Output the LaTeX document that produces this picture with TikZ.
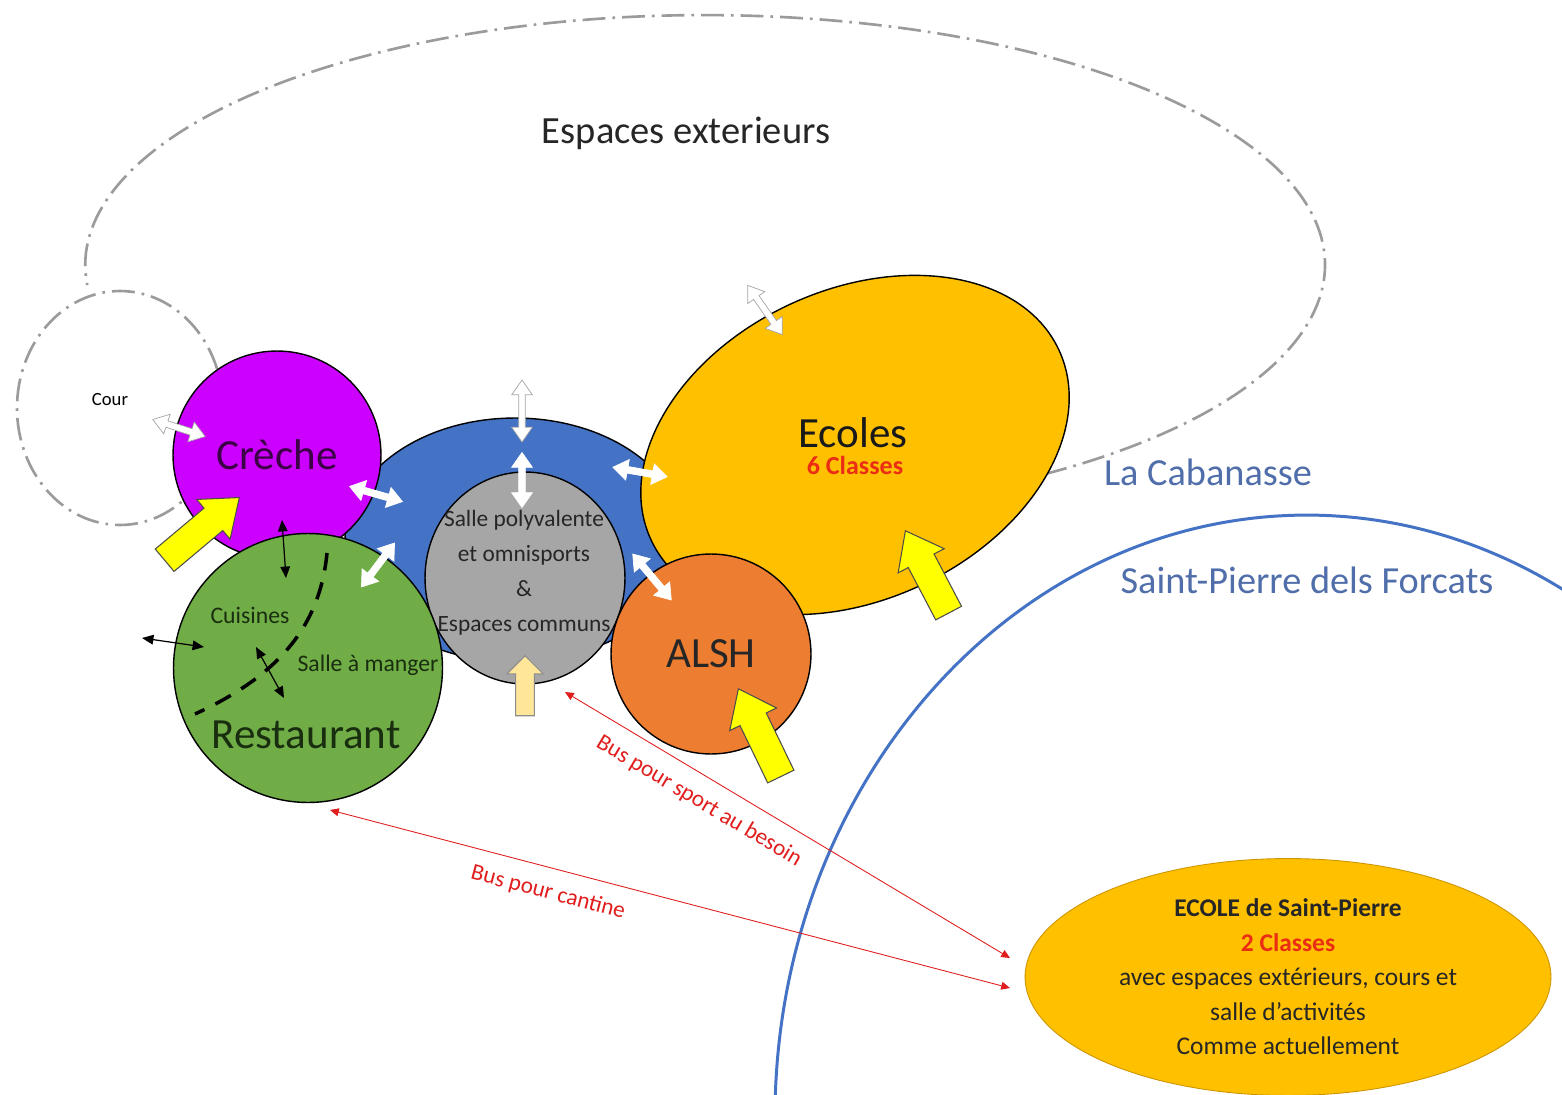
\documentclass[tikz,border=0pt]{standalone}
\usepackage{fontspec}
\setmainfont{Carlito}
\usetikzlibrary{shapes.geometric,shapes.arrows,arrows.meta}

\definecolor{crechecol}{RGB}{204,0,255}
\definecolor{bluecol}{RGB}{68,114,196}
\definecolor{graycol}{RGB}{166,166,166}
\definecolor{ecolecol}{RGB}{255,192,0}
\definecolor{ecoleedge}{RGB}{205,150,0}
\definecolor{alshcol}{RGB}{237,125,49}
\definecolor{restocol}{RGB}{112,173,71}
\definecolor{entrycol}{RGB}{255,255,0}
\definecolor{tancol}{RGB}{255,230,153}
\definecolor{dashcol}{RGB}{155,155,155}
\definecolor{villecol}{RGB}{68,114,196}
\definecolor{villetxtcol}{RGB}{80,110,170}
\definecolor{buscol}{RGB}{225,30,30}
\definecolor{classcol}{RGB}{235,45,20}
\definecolor{crechetxt}{RGB}{60,0,70}
\definecolor{restotxt}{RGB}{25,45,15}

\tikzset{
  bubble/.style={circle,draw=black,line width=0.8pt,inner sep=0pt},
  oval/.style={ellipse,draw=black,line width=0.8pt,inner sep=0pt},
  dashdot/.style={draw=dashcol,line width=1.5pt,dash pattern=on 13pt off 4pt on 1.5pt off 4pt},
  bigtxt/.style={font=\fontsize{24.5}{28}\selectfont},
  midtxt/.style={font=\fontsize{13.5}{20}\selectfont},
  villetxt/.style={text=villetxtcol,font=\fontsize{21.8}{24}\selectfont},
  bustxt/.style={text=buscol,font=\fontsize{13.2}{15}\selectfont},
  twoway/.style={double arrow,fill=white,draw=white,line width=0.4pt,inner sep=1.7pt,
    double arrow head extend=4pt,double arrow tip angle=70,minimum height=1.1cm},
  entryarrow/.style={single arrow,fill=entrycol,draw=black!70,line width=0.6pt,inner sep=8pt,
    single arrow head extend=6.5pt,single arrow tip angle=75,minimum height=1.95cm,anchor=tip},
  smallarrow/.style={black,line width=0.7pt,{Triangle[width=5.5pt,length=6.5pt]}-{Triangle[width=5.5pt,length=6.5pt]}},
  busline/.style={buscol,line width=0.5pt,{Triangle[width=4.5pt,length=5pt]}-{Triangle[width=4.5pt,length=5pt]}},
}

\begin{document}
\begin{tikzpicture}[x=0.02cm,y=-0.02cm]
  \useasboundingbox (0,0) rectangle (1562,1095);
  \fill[white] (0,0) rectangle (1562,1095);
  % outdoor areas and the two villages
  \draw[dashdot] (1044.5,474.2) arc[start angle=-56.8,end angle=184.6,x radius=12.4cm,y radius=5cm];
  \draw[villecol,line width=1.7pt] (775.3,1139) arc[start angle=182,end angle=58,x radius=10.64cm,y radius=12.06cm];
  \node[ellipse,dashdot,minimum width=4.12cm,minimum height=4.68cm] (cour) at (120,408) {};

  % buildings
  \node[oval,fill=bluecol,minimum width=6.8cm,minimum height=4.88cm] (commun) at (515,540) {};
  \node[oval,fill=graycol,minimum width=4cm,minimum height=4.24cm] (salle) at (525,578) {};
  \node[bubble,fill=crechecol,minimum size=4.16cm,bigtxt,text=crechetxt] (creche) at (277,455) {Crèche};
  \node[bubble,fill=restocol,minimum size=5.38cm] (resto) at (308,668) {};
  \node[oval,fill=ecolecol,minimum width=9cm,minimum height=6.2cm,rotate=25] (ecoles) at (855,445) {};
  \node[bubble,fill=alshcol,minimum size=4cm,bigtxt,text=black!85] (alsh) at (711,654) {ALSH};
  \node[ellipse,fill=ecolecol,draw=ecoleedge,line width=0.5pt,minimum width=10.52cm,minimum height=4.44cm,
    align=center,text=black!85,font=\fontsize{14.5}{19.6}\selectfont] (stpierre) at (1288,977)
    {\textbf{ECOLE de Saint-Pierre}\\\textbf{\color{classcol}2 Classes}\\avec espaces extérieurs, cours et\\salle d’activités\\Comme actuellement};
  \draw[black,line width=2pt,dash pattern=on 10pt off 7pt] (327,553) .. controls (320,625) and (280,675) .. (195,714);

  % labels
  \node[text=black!85,font=\fontsize{21.9}{24}\selectfont] (exterieur) at (686,133) {Espaces exterieurs};
  \node[font=\fontsize{10.6}{12}\selectfont] (courtxt) at (110,400) {Cour};
  \node[bigtxt,text=black!90] (ecolestxt) at (853,433) {Ecoles};
  \node[text=classcol,font=\bfseries\fontsize{14.8}{16}\selectfont] (classes) at (855,465) {6 Classes};
  \node[bigtxt,text=restotxt] (restotxt) at (306,735) {Restaurant};
  \node[midtxt,text=restotxt] (cuisines) at (250,615) {Cuisines};
  \node[midtxt,text=restotxt] (manger) at (368,665) {Salle à manger};
  \node[align=center,text=black!85,font=\fontsize{13.3}{20}\selectfont] (salletxt) at (524,573)
    {Salle polyvalente\\et omnisports\\\&\\Espaces communs};
  \node[villetxt] (cabanasse) at (1208,472) {La Cabanasse};
  \node[villetxt] (forcats) at (1307,580) {Saint-Pierre dels Forcats};

  % links between spaces
  \node[twoway,draw=black!35,rotate=-18] (lcour) at (179,428) {};
  \node[twoway,rotate=-16] (lcreche) at (376,494) {};
  \node[twoway,rotate=53] (lresto) at (378,565) {};
  \node[twoway,draw=black!35,rotate=90,minimum height=1.24cm] (lhaut) at (522,411) {};
  \node[twoway,rotate=90] (lsalle) at (522,480) {};
  \node[twoway,rotate=-10] (lecoles) at (640,472) {};
  \node[twoway,rotate=-50,minimum height=1.2cm] (lalsh) at (652,577) {};
  \node[twoway,draw=black!35,rotate=-55,minimum height=1.2cm] (lext) at (765,310) {};

  \coordinate (crecheIn) at (282,520);
  \coordinate (restoIn) at (286,578);
  \coordinate (dehors) at (142,638);
  \coordinate (cuisineIn) at (204,647);
  \coordinate (cuisineB) at (256,647);
  \coordinate (mangerB) at (284,698);
  \draw[smallarrow] (crecheIn) -- (restoIn);
  \draw[smallarrow] (dehors) -- (cuisineIn);
  \draw[smallarrow] (cuisineB) -- (mangerB);

  % entrances
  \node[entryarrow,rotate=40] (entcreche) at (240,497) {};
  \node[entryarrow,rotate=117.7,minimum height=1.86cm] (entecoles) at (905,530) {};
  \node[entryarrow,rotate=115.8] (entalsh) at (738,688) {};
  \node[entryarrow,fill=tancol,draw=black!45,rotate=90,inner sep=5pt,single arrow head extend=5pt,
    single arrow tip angle=90,minimum height=1.2cm] (entsalle) at (525,655) {};

  % buses
  \coordinate (sportA) at (565,692);
  \coordinate (sportB) at (1010,958);
  \coordinate (cantA) at (330,810);
  \coordinate (cantB) at (1010,988);
  \draw[busline] (sportA) -- node[bustxt,pos=0.33,sloped,below=5pt] (sporttxt) {Bus pour sport au besoin} (sportB);
  \draw[busline] (cantA) -- node[bustxt,pos=0.33,sloped,below=5pt] (canttxt) {Bus pour cantine} (cantB);
\end{tikzpicture}
\end{document}
